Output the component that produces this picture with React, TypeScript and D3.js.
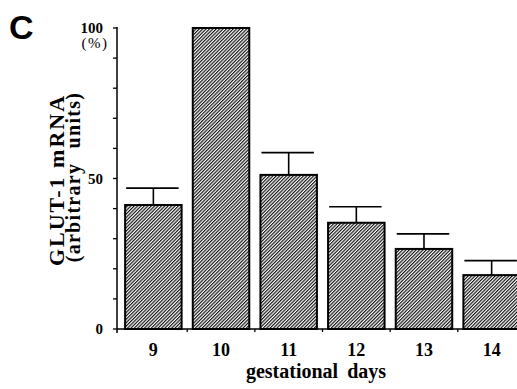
import React from "react";
import * as d3 from "d3";

const days = ["9", "10", "11", "12", "13", "14"];
const means = [41.2, 100, 51.2, 35.3, 26.6, 17.9];
const errTops = [46.8, 100, 58.6, 40.6, 31.6, 22.7];
const yTicks = [0, 10, 20, 30, 40, 50, 60, 70, 80, 90, 100];
const yLabels = [0, 50, 100];

const W = 517;
const H = 389;

export default function App() {
  const x = d3
    .scaleBand<string>()
    .domain(days)
    .range([117, 528])
    .paddingInner(0.165)
    .paddingOuter(0.12);
  const y = d3.scaleLinear().domain([0, 100]).range([329, 28]);
  const bw = x.bandwidth();
  const step = x.step();
  const serif = "'Liberation Serif', 'Times New Roman', serif";

  return (
    <svg
      width={W}
      height={H}
      style={{ position: "absolute", left: 0, top: 0, background: "#fff" }}
    >
      <defs>
        <pattern
          id="hatch"
          patternUnits="userSpaceOnUse"
          width={2.4}
          height={10}
          patternTransform="rotate(45)"
        >
          <line x1={0.6} y1={0} x2={0.6} y2={10} stroke="#000" strokeWidth={1.1} />
        </pattern>
      </defs>
      <rect x={0} y={0} width={W} height={H} fill="#fff" />

      {/* panel letter */}
      <text
        x={9}
        y={39}
        fontFamily="'Liberation Sans', Arial, sans-serif"
        fontWeight="bold"
        fontSize={34}
        fill="#000"
      >
        C
      </text>

      {/* bars */}
      {days.map((d, i) => (
        <rect
          key={d}
          x={x(d)!}
          y={y(means[i])}
          width={bw}
          height={y(0) - y(means[i])}
          fill="url(#hatch)"
          stroke="#000"
          strokeWidth={2}
        />
      ))}

      {/* error bars */}
      {days.map((d, i) =>
        errTops[i] > means[i] ? (
          <g key={"e" + d} stroke="#000" strokeWidth={1.6}>
            <line
              x1={x(d)! + bw / 2}
              x2={x(d)! + bw / 2}
              y1={y(means[i])}
              y2={y(errTops[i])}
            />
            <line
              x1={x(d)! + 1}
              x2={x(d)! + bw - 3}
              y1={y(errTops[i])}
              y2={y(errTops[i])}
            />
          </g>
        ) : null
      )}

      {/* y axis */}
      <line x1={117} x2={117} y1={y(100) - 1} y2={y(0) + 4} stroke="#000" strokeWidth={1.5} />
      {yTicks.map((t) => (
        <line key={t} x1={113} x2={117} y1={y(t)} y2={y(t)} stroke="#000" strokeWidth={1.3} />
      ))}
      {yLabels.map((t) => (
        <text
          key={t}
          x={103}
          y={y(t) + 5}
          textAnchor="end"
          fontFamily={serif}
          fontWeight="bold"
          fontSize={15}
          fill="#000"
        >
          {t}
        </text>
      ))}
      <text
        x={95}
        y={y(100) + 20}
        textAnchor="middle"
        fontFamily={serif}
        fontSize={15}
        letterSpacing={1.5}
        fill="#000"
      >
        (%)
      </text>

      {/* x axis */}
      <line x1={117} x2={W} y1={y(0)} y2={y(0)} stroke="#000" strokeWidth={1.5} />
      {days.slice(0, -1).map((d) => {
        const bx = x(d)! + bw + (step - bw) / 2;
        return (
          <line key={"t" + d} x1={bx} x2={bx} y1={y(0)} y2={y(0) + 3} stroke="#000" strokeWidth={1.3} />
        );
      })}
      {days.map((d) => (
        <text
          key={"l" + d}
          x={x(d)! + bw / 2}
          y={356}
          textAnchor="middle"
          fontFamily={serif}
          fontWeight="bold"
          fontSize={18}
          fill="#000"
        >
          {d}
        </text>
      ))}
      <text
        x={316}
        y={378}
        textAnchor="middle"
        fontFamily={serif}
        fontWeight="bold"
        fontSize={20}
        wordSpacing={4}
        fill="#000"
      >
        gestational days
      </text>

      {/* y axis title */}
      <text
        transform="translate(64,180) rotate(-90)"
        textAnchor="middle"
        fontFamily={serif}
        fontWeight="bold"
        fontSize={22}
        letterSpacing={2}
        fill="#000"
      >
        GLUT-1 mRNA
      </text>
      <text
        transform="translate(80,177) rotate(-90)"
        textAnchor="middle"
        fontFamily={serif}
        fontWeight="bold"
        fontSize={20}
        wordSpacing={8}
        letterSpacing={1.3}
        fill="#000"
      >
        (arbitrary units)
      </text>
    </svg>
  );
}
